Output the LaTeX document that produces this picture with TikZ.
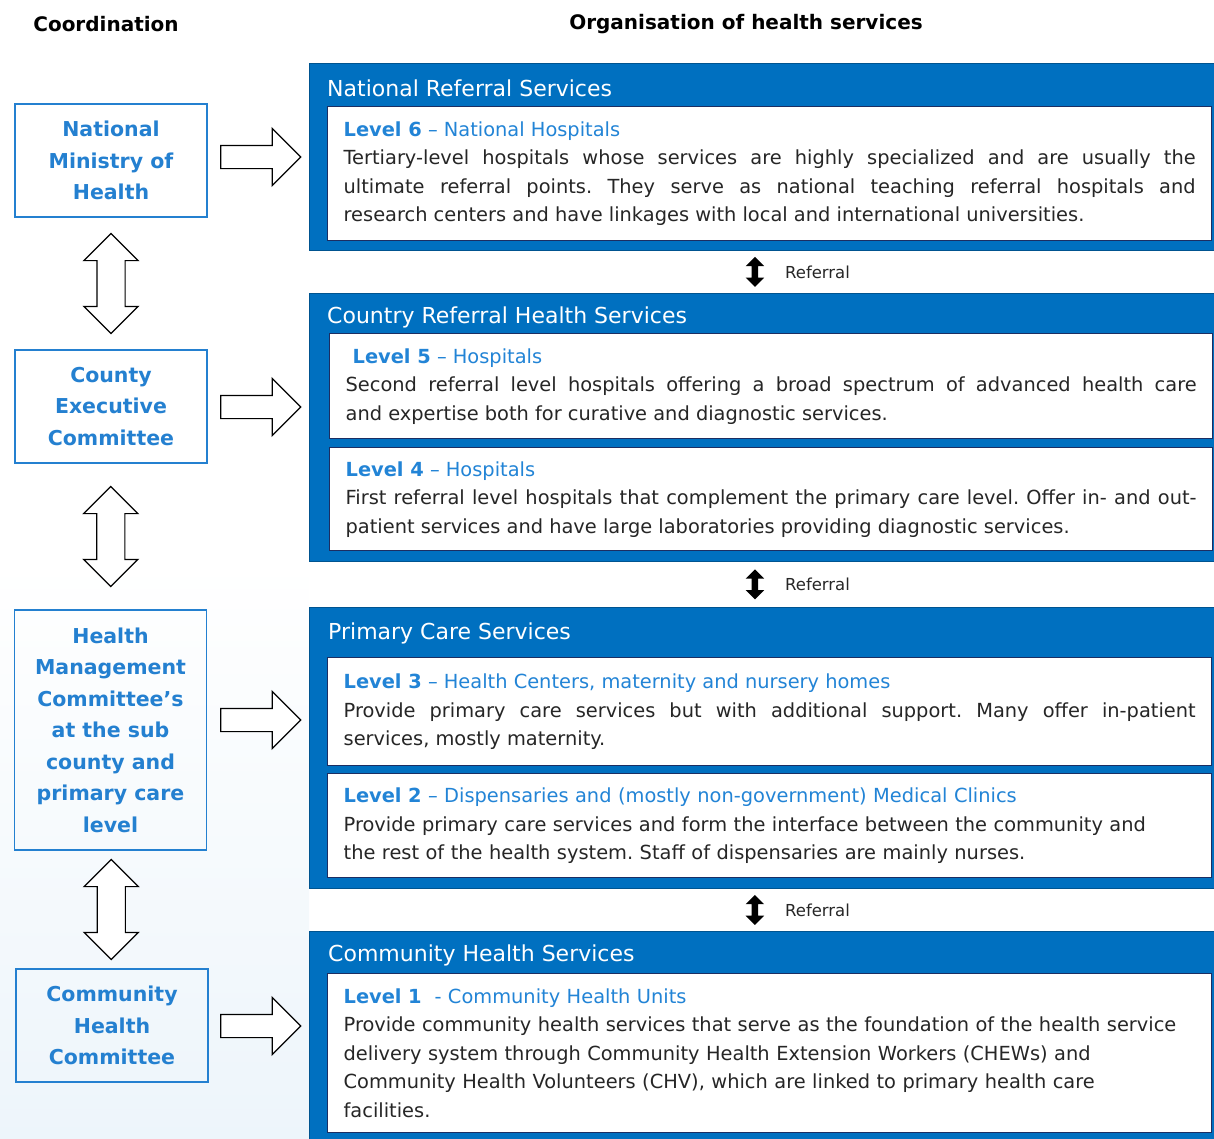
\documentclass[tikz,border=0pt]{standalone}
\usepackage{fontspec}
\setmainfont{DejaVu Sans}
\frenchspacing
\usetikzlibrary{shapes.arrows,calc,positioning}
\definecolor{panelblue}{RGB}{0,112,192}
\definecolor{boxblue}{RGB}{36,128,208}
\definecolor{levelblue}{RGB}{34,132,214}
\definecolor{navy}{RGB}{28,46,98}
\definecolor{bodygray}{RGB}{38,38,38}
\tikzset{
  coord/.style={draw=boxblue,line width=1.4pt,minimum width=192pt,text=boxblue,
    font=\fontsize{20.5}{31.5}\selectfont\bfseries,align=center},
  panel/.style={fill=panelblue,draw=panelblue!75!black,line width=0.8pt,anchor=north west,inner sep=0pt},
  head/.style={text=white,font=\fontsize{22}{26}\selectfont,anchor=west,inner sep=0pt},
  levelbox/.style={draw=navy,line width=1.3pt,fill=white,anchor=north west,text width=852pt,
    inner xsep=16pt,inner ysep=0pt,font=\fontsize{19.4}{28.5}\selectfont,text=bodygray},
  updown/.style={double arrow,draw,line width=1.2pt,fill=white,rotate=90,minimum height=100pt,
    inner xsep=0pt,inner ysep=13.5pt,double arrow head extend=13pt},
  toright/.style={single arrow,draw,line width=1.2pt,fill=white,minimum height=80pt,
    inner xsep=0pt,inner ysep=11pt,single arrow head extend=17pt},
  referral/.style={double arrow,fill=black,rotate=90,minimum height=30pt,
    inner xsep=0pt,inner ysep=3pt,double arrow head extend=6pt},
  reftext/.style={text=bodygray,font=\fontsize{16.5}{20}\selectfont,anchor=west,inner sep=0pt},
  title/.style={font=\fontsize{20}{26}\selectfont\bfseries,text=black,inner sep=0pt}
}
\newcommand{\lvl}[2]{{\color{levelblue}\textbf{#1} -- #2}}
\begin{document}
\begin{tikzpicture}[x=1pt,y=-1pt]
	\useasboundingbox (0,0) rectangle (1214,1138);
	\shade[top color=white,bottom color=panelblue!7] (0,560) rectangle (309,1138);
	\node[title] (coordt) at (106,24) {Coordination};
	\node[title] (orgt) at (746,24) {Organisation of health services};
	% coordination side
	\node[coord,minimum height=113pt] (nmh) at (111,160.5) {National\\Ministry of\\Health};
	\node[coord,minimum height=113pt] (cec) at (111,406.5) {County\\Executive\\Committee};
	\node[coord,minimum height=240pt] (hmc) at (110.5,730) {Health\\Management\\Committee's\\at the sub\\county and\\primary care\\level};
	\node[coord,minimum height=113pt] (chc) at (112,1025.5) {Community\\Health\\Committee};
	\node[updown] (ud1) at ($(nmh.south)!0.5!(cec.north)$) {};
	\node[updown] (ud2) at ($(cec.south)!0.5!(hmc.north)$) {};
	\node[updown] (ud3) at ($(hmc.south)!0.5!(chc.north)$) {};
	% service levels
	\node[panel,minimum width=905pt,minimum height=187pt] (nrs) at (309,63) {};
	\node[panel,minimum width=905pt,minimum height=268pt] (crs) at (309,293) {};
	\node[panel,minimum width=905pt,minimum height=281pt] (pcs) at (309,607) {};
	\node[panel,minimum width=905pt,minimum height=210pt] (chs) at (309,931) {};
	\node[head] (nrsh) at (327,88) {National Referral Services};
	\node[head] (crsh) at (327,317) {Country Referral Health Services};
	\node[head] (pcsh) at (328,633) {Primary Care Services};
	\node[head] (chsh) at (328,955) {Community Health Services};
	\node[toright] (tr1) at (255,157) {};
	\node[toright] (tr2) at (255,407) {};
	\node[toright] (tr3) at (255,720) {};
	\node[toright] (tr4) at (255,1026) {};
	\node[levelbox,minimum height=134pt,align=justify] (l6) at (327,106) {\lvl{Level 6}{National Hospitals}\\
		Tertiary-level hospitals whose services are highly specialized and are usually the\linebreak
		ultimate referral points. They serve as national teaching referral hospitals and\linebreak
		research centers and have linkages with local and international universities.};
	\node[levelbox,minimum height=105pt,align=justify,text width=851pt] (l5) at (329,333) {\hspace*{7pt}\lvl{Level 5}{Hospitals}\\
		Second referral level hospitals offering a broad spectrum of advanced health care\linebreak
		and expertise both for curative and diagnostic services.};
	\node[levelbox,minimum height=103pt,align=justify,text width=851pt] (l4) at (329,447) {\lvl{Level 4}{Hospitals}\\
		First referral level hospitals that complement the primary care level. Offer in- and out-\linebreak
		patient services and have large laboratories providing diagnostic services.};
	\node[levelbox,minimum height=108pt,align=justify] (l3) at (327,657) {\lvl{Level 3}{Health Centers, maternity and nursery homes}\\
		Provide primary care services but with additional support. Many offer in-patient\linebreak
		services, mostly maternity.};
	\node[levelbox,minimum height=104pt,align=left] (l2) at (327,773) {\lvl{Level 2}{Dispensaries and (mostly non-government) Medical Clinics}\\
		Provide primary care services and form the interface between the community and\\
		the rest of the health system. Staff of dispensaries are mainly nurses.};
	\node[levelbox,minimum height=159pt,align=left] (l1) at (327,973) {{\color{levelblue}\textbf{Level 1}\ \ - Community Health Units}\\
		Provide community health services that serve as the foundation of the health service\\
		delivery system through Community Health Extension Workers (CHEWs) and\\
		Community Health Volunteers (CHV), which are linked to primary health care\\
		facilities.};
	% referral between levels
	\node[referral] (rf1) at ($(nrs.south)!0.5!(crs.north)+(-7,0)$) {};
	\node[referral] (rf2) at ($(crs.south)!0.5!(pcs.north)+(-7,0)$) {};
	\node[referral] (rf3) at ($(pcs.south)!0.5!(chs.north)+(-7,0)$) {};
	\node[reftext,right=30pt of rf1.center] (rt1) {Referral};
	\node[reftext,right=30pt of rf2.center] (rt2) {Referral};
	\node[reftext,right=30pt of rf3.center] (rt3) {Referral};
\end{tikzpicture}
\end{document}
